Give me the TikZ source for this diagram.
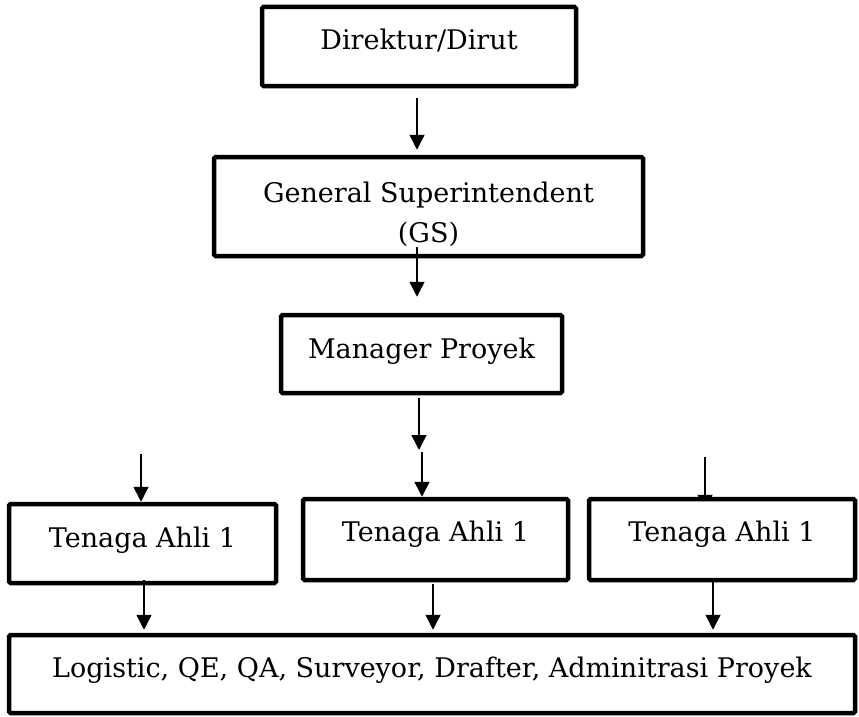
\documentclass[tikz,border=0pt]{standalone}
\usepackage{fontspec}
\setmainfont{DejaVu Serif}
\usetikzlibrary{arrows.meta,backgrounds}
\begin{document}
\begin{tikzpicture}[x=1pt,y=-1pt,>={Triangle[length=15pt,width=15pt]},
  kotak/.style={draw,line width=4.5pt,fill=white,rounded corners=1.5pt,inner sep=0pt,align=center,font=\fontsize{27}{40}\selectfont},
  panah/.style={->,line width=1.5pt}]
  \useasboundingbox (0,0) rectangle (859,717);
  \node[kotak,minimum width=314pt,text height=43pt,text depth=36pt] (dirut) at (419,46.5) {Direktur/Dirut};
  \node[kotak,minimum width=429pt,minimum height=99pt] (gs) at (428.5,206.5) {\rule{0pt}{36pt}General Superintendent\\(GS)};
  \node[kotak,minimum width=281pt,text height=43pt,text depth=35pt] (mp) at (421.5,354) {Manager Proyek};
  \node[kotak,minimum width=267pt,text height=43pt,text depth=36pt] (ta1) at (142.5,543.5) {Tenaga Ahli 1};
  \node[kotak,minimum width=265pt,text height=42pt,text depth=39pt] (ta2) at (435.5,539.5) {Tenaga Ahli 1};
  \node[kotak,minimum width=266pt,text height=42pt,text depth=39pt] (ta3) at (722,539.5) {Tenaga Ahli 1};
  \node[kotak,minimum width=846pt,text height=42pt,text depth=36pt] (staf) at (432,674) {Logistic, QE, QA, Surveyor, Drafter, Adminitrasi Proyek};
  % ujung bebas panah
  \coordinate (p1) at (417,98);
  \coordinate (p2) at (417,247);
  \coordinate (p3) at (419,398);
  \coordinate (p3b) at (419,450);
  \coordinate (p4) at (422,452);
  \coordinate (p5) at (141,454);
  \coordinate (p6) at (705,457);
  \coordinate (p7) at (144,580);
  \coordinate (p8) at (433,584);
  \coordinate (p9) at (713,582);
  \draw[panah,shorten >=5pt] (p1) -- (p1 |- gs.north);
  \draw[panah,shorten >=16pt] (p2) -- (p2 |- mp.north);
  \draw[panah] (p3) -- (p3b);
  \draw[panah] (p4) -- (p4 |- ta2.north);
  \draw[panah] (p5) -- (p5 |- ta1.north);
  \begin{scope}[on background layer]
    \draw[panah,shorten >=-13pt] (p6) -- (p6 |- ta3.north);
  \end{scope}
  \draw[panah,shorten >=3pt] (p7) -- (p7 |- staf.north);
  \draw[panah,shorten >=3pt] (p8) -- (p8 |- staf.north);
  \draw[panah,shorten >=3pt] (p9) -- (p9 |- staf.north);
\end{tikzpicture}
\end{document}
